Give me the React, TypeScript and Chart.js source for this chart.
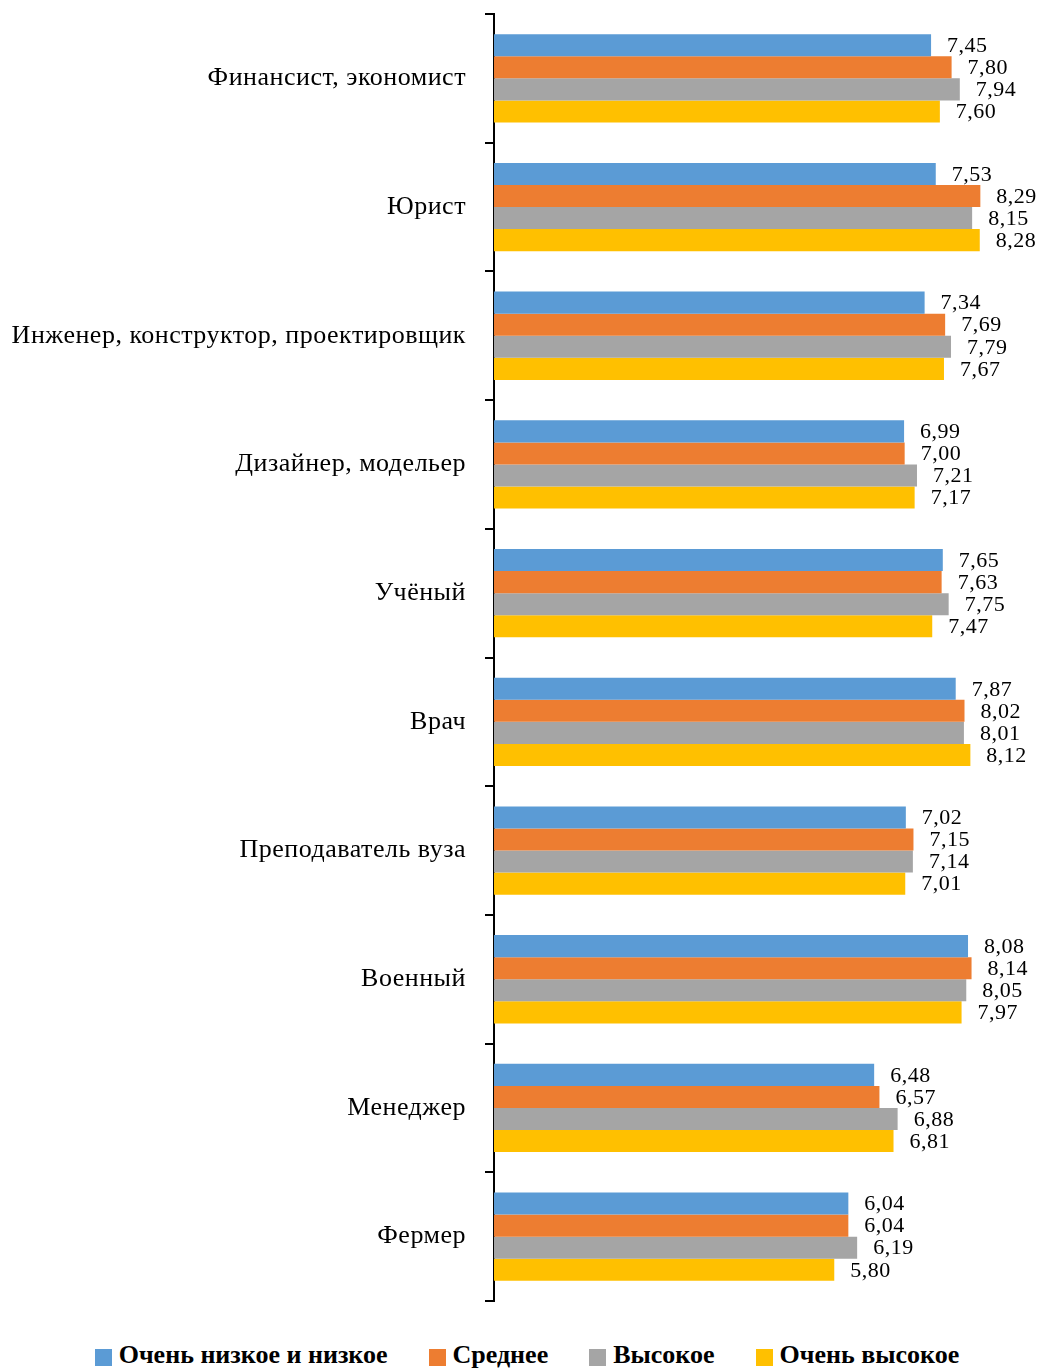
import React, { useEffect, useRef } from "react";
import { Chart, registerables } from "chart.js";

Chart.register(...registerables);

const categories = [
  "Финансист, экономист",
  "Юрист",
  "Инженер, конструктор, проектировщик",
  "Дизайнер, модельер",
  "Учёный",
  "Врач",
  "Преподаватель вуза",
  "Военный",
  "Менеджер",
  "Фермер",
];

const seriesNames = ["Очень низкое и низкое", "Среднее", "Высокое", "Очень высокое"];
const seriesColors = ["#5B9BD5", "#ED7D31", "#A5A5A5", "#FFC000"];

const veryLowLow = [7.45, 7.53, 7.34, 6.99, 7.65, 7.87, 7.02, 8.08, 6.48, 6.04];
const medium = [7.8, 8.29, 7.69, 7.0, 7.63, 8.02, 7.15, 8.14, 6.57, 6.04];
const high = [7.94, 8.15, 7.79, 7.21, 7.75, 8.01, 7.14, 8.05, 6.88, 6.19];
const veryHigh = [7.6, 8.28, 7.67, 7.17, 7.47, 8.12, 7.01, 7.97, 6.81, 5.8];

const seriesValues = [veryLowLow, medium, high, veryHigh];

const FONT = '"Liberation Serif", "Times New Roman", serif';

const spacing = {
  id: "spacing",
  beforeDraw(chart: any) {
    chart.ctx.letterSpacing = "0.5px";
  },
};

const valueLabels = {
  id: "valueLabels",
  afterDatasetsDraw(chart: any) {
    const ctx = chart.ctx;
    ctx.save();
    ctx.letterSpacing = "0.5px";
    ctx.font = `22px ${FONT}`;
    ctx.fillStyle = "#000";
    ctx.textAlign = "left";
    ctx.textBaseline = "middle";
    chart.data.datasets.forEach((ds: any, i: number) => {
      const meta = chart.getDatasetMeta(i);
      meta.data.forEach((el: any, j: number) => {
        const v = ds.data[j] as number;
        ctx.fillText(v.toFixed(2).replace(".", ","), el.x + 16, el.y + 1);
      });
    });
    ctx.restore();
  },
};

export default function App() {
  const ref = useRef<HTMLCanvasElement | null>(null);

  useEffect(() => {
    if (!ref.current) return;
    const chart = new Chart(ref.current, {
      type: "bar",
      data: {
        labels: categories,
        datasets: seriesValues.map((vals, i) => ({
          label: seriesNames[i],
          data: vals,
          backgroundColor: seriesColors[i],
          borderWidth: 0,
          barPercentage: 1,
          categoryPercentage: 0.686,
        })),
      },
      options: {
        indexAxis: "y",
        animation: false,
        responsive: true,
        maintainAspectRatio: false,
        layout: { padding: { top: 14, bottom: 19, right: 16, left: 0 } },
        plugins: {
          legend: { display: false },
          tooltip: { enabled: false },
        },
        scales: {
          x: {
            display: false,
            min: 0,
            max: 9,
          },
          y: {
            afterFit(scale: any) {
              scale.width = 494;
              scale.paddingTop = 0;
              scale.paddingBottom = 0;
            },
            grid: {
              drawOnChartArea: false,
              drawTicks: true,
              tickLength: 9,
              color: "#000",
              lineWidth: 2,
              offset: true,
            },
            border: { display: true, color: "#000", width: 2 },
            ticks: {
              color: "#000",
              padding: 19,
              font: { family: FONT, size: 26 },
            },
          },
        },
      },
      plugins: [spacing, valueLabels],
    });
    return () => chart.destroy();
  }, []);

  return (
    <div style={{ position: "absolute", left: 0, top: 0, width: 1038, height: 1368, background: "#fff" }}>
      <div style={{ position: "absolute", left: 0, top: 0, width: 1038, height: 1320 }}>
        <canvas ref={ref} />
      </div>
      <div
        style={{
          position: "absolute",
          left: 16,
          top: 1338,
          width: 1022,
          height: 34,
          display: "flex",
          justifyContent: "center",
          alignItems: "center",
          fontFamily: FONT,
          fontWeight: "bold",
          fontSize: 26,
          color: "#000",
          whiteSpace: "nowrap",
        }}
      >
        {seriesNames.map((n, i) => (
          <span key={n} style={{ display: "flex", alignItems: "center", marginLeft: i === 0 ? 0 : 41 }}>
            <span style={{ display: "inline-block", width: 17, height: 17, background: seriesColors[i], marginRight: 7, marginTop: 4 }} />
            <span>{n}</span>
          </span>
        ))}
      </div>
    </div>
  );
}
